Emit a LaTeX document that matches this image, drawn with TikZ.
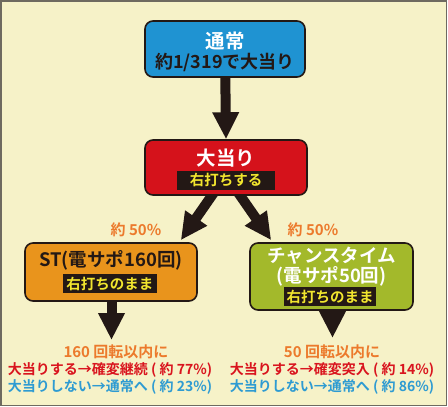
\documentclass[tikz,border=0pt]{standalone}
\usepackage{fontspec}
\setmainfont{Noto Sans CJK JP}[BoldFont={Noto Sans CJK JP Bold}]
\usepackage{tikz}
\usetikzlibrary{positioning,calc,arrows.meta}

\definecolor{bgcream}{HTML}{F6F2C8}
\definecolor{frame}{HTML}{6E6A60}
\definecolor{ink}{HTML}{231815}
\definecolor{boxblue}{HTML}{1F93D2}
\definecolor{boxred}{HTML}{D5121B}
\definecolor{boxorange}{HTML}{E9941C}
\definecolor{boxgreen}{HTML}{A3B92B}
\definecolor{lblyellow}{HTML}{F2E62E}
\definecolor{txtorange}{HTML}{EC7A2C}
\definecolor{txtred}{HTML}{D9141E}
\definecolor{txtblue}{HTML}{2E9BD2}

\pgfdeclarelayer{back}
\pgfdeclarelayer{arrowlayer}
\pgfsetlayers{back,arrowlayer,main}

\newcommand{\fs}[1]{\fontsize{#1}{#1}\selectfont}

\tikzset{
  flowbox/.style={draw=ink,line width=1.6pt,rounded corners=8pt,inner sep=0pt},
  modelbl/.style={fill=ink,text=lblyellow,font=\bfseries\fs{14.5},inner sep=0pt,minimum height=19pt},
  bigarrow/.style={draw=ink,line width=10pt,-{Triangle[width=25pt,length=27pt]}},
}

\begin{document}
\begin{tikzpicture}[x=1pt,y=-1pt]
\useasboundingbox (0,0) rectangle (448,407);
\begin{pgfonlayer}{back}
\draw[frame,line width=1.5pt,fill=bgcream] (1,1) rectangle (446.5,405.5);
\end{pgfonlayer}

% boxes
\node[flowbox,fill=boxblue,minimum width=160pt,minimum height=56pt] (normal) at (225,49) {};
\node[flowbox,fill=boxred,minimum width=162pt,minimum height=55pt] (hit) at (226,167.5) {};
\node[flowbox,fill=boxorange,minimum width=172pt,minimum height=58pt] (st) at (111,272) {};
\node[flowbox,fill=boxgreen,minimum width=163pt,minimum height=67pt] (chance) at (331.5,276.5) {};

% box texts
\node[text=white,font=\bfseries\fs{19.5}] (normaltitle) at (225,41) {通常};
\node[text=ink,font=\bfseries\fs{18}] (normalodds) at (225,62) {約1/319で大当り};

\node[text=white,font=\bfseries\fs{19.5}] (hittitle) at (226,158) {大当り};
\node[modelbl,minimum width=98pt] (hitlbl) at (226,180) {右打ちする};

\node[text=ink,font=\bfseries\fs{18.5}] (sttitle) at (111,260) {ST(電サポ160回)};
\node[modelbl,minimum width=94pt] (stlbl) at (110,283.5) {右打ちのまま};

\node[text=white,font=\bfseries\fs{18.5}] (chancetitle) at (331.5,256) {チャンスタイム};
\node[text=white,font=\bfseries\fs{18.5}] (chancesub) at (331.5,276) {(電サポ50回)};
\node[modelbl,minimum width=92pt] (chancelbl) at (330,296.5) {右打ちのまま};

% arrows, under the boxes
\begin{pgfonlayer}{arrowlayer}
\draw[bigarrow] (normal.center) -- (hit.north);
\draw[bigarrow] ([xshift=-6pt,yshift=12pt]hit.south) -- ([xshift=-17pt,yshift=2pt]st.north east);
\draw[bigarrow] ([xshift=6pt,yshift=12pt]hit.south) -- ([xshift=22pt,yshift=2pt]chance.north west);
\coordinate (stend) at (111.5,340);
\coordinate (chanceend) at (332.5,338);
\draw[bigarrow] (st.center -| stend) -- (stend);
\draw[bigarrow] (chance.center -| chanceend) -- (chanceend);
\end{pgfonlayer}

% rates
\node[text=txtorange,font=\bfseries\fs{15}] (leftrate) at (136,230) {約 50\%};
\node[text=txtorange,font=\bfseries\fs{15}] (rightrate) at (313,230) {約 50\%};

% results
\node[text=txtorange,font=\bfseries\fs{15}] (stspin) at (116,352) {160 回転以内に};
\node[text=txtred,font=\bfseries\fs{14}] (stwin) at (110,370) {大当りする→確変継続 ( 約 77\%)};
\node[text=txtblue,font=\bfseries\fs{14}] (stlose) at (110,387) {大当りしない→通常へ ( 約 23\%)};

\node[text=txtorange,font=\bfseries\fs{15}] (chancespin) at (332,352) {50 回転以内に};
\node[text=txtred,font=\bfseries\fs{14}] (chancewin) at (332,370) {大当りする→確変突入 ( 約 14\%)};
\node[text=txtblue,font=\bfseries\fs{14}] (chancelose) at (332,387) {大当りしない→通常へ ( 約 86\%)};
\end{tikzpicture}
\end{document}
